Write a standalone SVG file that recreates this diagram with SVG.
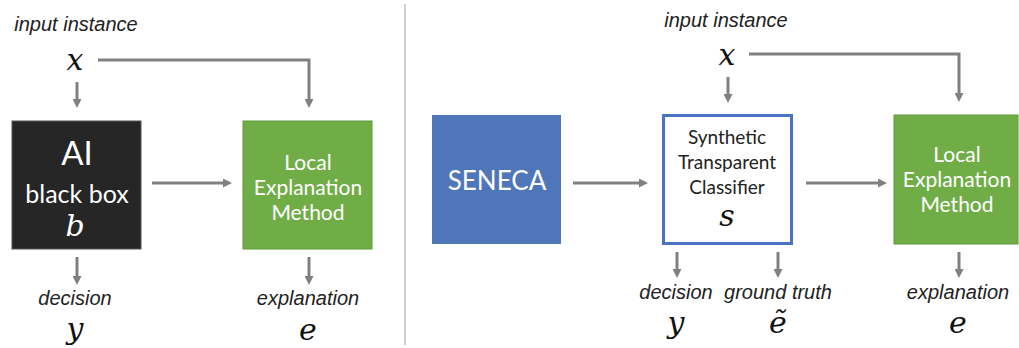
<svg xmlns="http://www.w3.org/2000/svg" width="1019" height="348" viewBox="0 0 1019 348">
<style>
.lbl{font-family:"Liberation Sans",Arial,sans-serif;font-style:italic;font-size:20px;fill:#222;text-anchor:middle}
.math{font-family:"DejaVu Serif",serif;font-style:italic;font-size:30px;fill:#111;text-anchor:middle}
.wt{font-family:Lato,"Open Sans",sans-serif;fill:#fff;text-anchor:middle}
.lem{font-size:21px}
.bt{font-family:Lato,"Open Sans",sans-serif;fill:#222;text-anchor:middle;font-size:19px}
.arr{stroke:#808080;stroke-width:3;fill:none;marker-end:url(#ah)}
</style>
<defs>
<marker id="ah" markerUnits="userSpaceOnUse" markerWidth="9" markerHeight="9" viewBox="0 0 9 9" refX="1" refY="4.5" orient="auto">
<path d="M0,0 L9,4.5 L0,9 z" fill="#808080"/>
</marker>
</defs>
<rect width="1019" height="348" fill="#fff"/>
<line x1="405" y1="4" x2="405" y2="345" stroke="#b0b0b0" stroke-width="1.2"/>

<g id="left-input">
<text class="lbl" x="76" y="31">input instance</text>
<text class="math" x="75" y="70">x</text>
</g>
<g id="blackbox">
<rect x="12" y="121" width="129" height="128" fill="#262626" stroke="#555" stroke-width="1"/>
<text class="wt" x="77" y="165" font-size="33">AI</text>
<text class="wt" x="77" y="203" font-size="25">black box</text>
<text class="math" x="75" y="236" style="fill:#fff" font-size="28">b</text>
</g>
<g id="left-lem">
<rect x="243" y="121" width="129" height="128" fill="#70AD47" stroke="#5f9a3a" stroke-width="1"/>
<text class="wt lem" x="308" y="170">Local</text>
<text class="wt lem" x="308" y="195">Explanation</text>
<text class="wt lem" x="308" y="220">Method</text>
</g>
<g id="left-decision">
<text class="lbl" x="75" y="305">decision</text>
<text class="math" x="75" y="339">y</text>
</g>
<g id="left-explanation">
<text class="lbl" x="308" y="305">explanation</text>
<text class="math" x="308" y="340">e</text>
</g>

<g id="right-input">
<text class="lbl" x="726" y="27">input instance</text>
<text class="math" x="727" y="65">x</text>
</g>
<g id="seneca">
<rect x="432" y="115" width="129" height="129" fill="#4F76B8"/>
<text class="wt" x="497" y="190" font-size="26">SENECA</text>
</g>
<g id="classifier">
<rect x="663.5" y="115.5" width="128" height="128" fill="#fff" stroke="#4A74C2" stroke-width="3"/>
<text class="bt" x="727" y="144">Synthetic</text>
<text class="bt" x="727" y="169">Transparent</text>
<text class="bt" x="727" y="194">Classifier</text>
<text class="math" x="727" y="226" font-size="28">s</text>
</g>
<g id="right-lem">
<rect x="894" y="115" width="124" height="129" fill="#70AD47" stroke="#5f9a3a" stroke-width="1"/>
<text class="wt lem" x="957" y="162">Local</text>
<text class="wt lem" x="957" y="187">Explanation</text>
<text class="wt lem" x="957" y="212">Method</text>
</g>
<g id="right-decision">
<text class="lbl" x="676" y="299">decision</text>
<text class="math" x="676" y="333">y</text>
</g>
<g id="ground-truth">
<text class="lbl" x="778" y="299">ground truth</text>
<text class="math" x="778" y="333">ẽ</text>
</g>
<g id="right-explanation">
<text class="lbl" x="958" y="299">explanation</text>
<text class="math" x="958" y="333">e</text>
</g>

<g id="connectors">
<path class="arr" d="M77,82 V100"/>
<path class="arr" d="M98,60 H309 V100"/>
<path class="arr" d="M152,183 H224"/>
<path class="arr" d="M77,257 V277"/>
<path class="arr" d="M309,257 V277"/>
<path class="arr" d="M728,77 V95"/>
<path class="arr" d="M749,54 H959 V94"/>
<path class="arr" d="M573,183 H640"/>
<path class="arr" d="M806,183 H879"/>
<path class="arr" d="M677,252 V270"/>
<path class="arr" d="M778,252 V270"/>
<path class="arr" d="M959,252 V270"/>
</g>
</svg>
